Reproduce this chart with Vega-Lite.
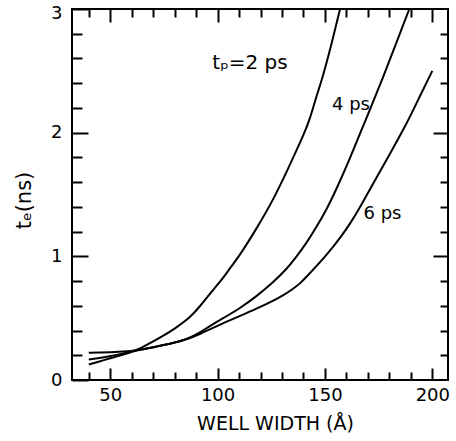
{
  "$schema": "https://vega.github.io/schema/vega-lite/v6.json",
  "width": 376,
  "height": 371,
  "autosize": {"type": "none"},
  "padding": {"left": 72, "top": 9, "right": 8, "bottom": 61},
  "background": "white",
  "config": {
    "view": {"stroke": "black", "strokeWidth": 2},
    "font": "DejaVu Sans",
    "axis": {"zindex": 2, "domain": false, "grid": false, "ticks": true, "tickColor": "black", "tickWidth": 2, "tickOpacity": 1, "labelColor": "black", "titleColor": "black", "labelFont": "DejaVu Sans", "titleFont": "DejaVu Sans", "labelFontSize": 18, "titleFontSize": 19, "titleFontWeight": "normal"}
  },
  "resolve": {"axis": {"x": "independent", "y": "independent"}},
  "layer": [
    {
      "data": {"values": [
        {"series": "2 ps", "width": 40, "te": 0.125},
        {"series": "2 ps", "width": 45, "te": 0.15},
        {"series": "2 ps", "width": 50, "te": 0.176},
        {"series": "2 ps", "width": 55, "te": 0.2},
        {"series": "2 ps", "width": 62, "te": 0.237},
        {"series": "2 ps", "width": 68.5, "te": 0.297},
        {"series": "2 ps", "width": 75, "te": 0.36},
        {"series": "2 ps", "width": 80, "te": 0.415},
        {"series": "2 ps", "width": 87, "te": 0.5},
        {"series": "2 ps", "width": 92, "te": 0.6},
        {"series": "2 ps", "width": 96, "te": 0.69},
        {"series": "2 ps", "width": 102, "te": 0.81},
        {"series": "2 ps", "width": 106, "te": 0.91},
        {"series": "2 ps", "width": 110.4, "te": 1.01},
        {"series": "2 ps", "width": 118, "te": 1.22},
        {"series": "2 ps", "width": 125.9, "te": 1.455},
        {"series": "2 ps", "width": 132.9, "te": 1.71},
        {"series": "2 ps", "width": 136.8, "te": 1.86},
        {"series": "2 ps", "width": 140, "te": 1.98},
        {"series": "2 ps", "width": 143, "te": 2.11},
        {"series": "2 ps", "width": 145.4, "te": 2.26},
        {"series": "2 ps", "width": 149.2, "te": 2.46},
        {"series": "2 ps", "width": 153.9, "te": 2.775},
        {"series": "2 ps", "width": 157, "te": 3.0},
        {"series": "4 ps", "width": 40, "te": 0.165},
        {"series": "4 ps", "width": 45, "te": 0.178},
        {"series": "4 ps", "width": 50, "te": 0.192},
        {"series": "4 ps", "width": 56, "te": 0.215},
        {"series": "4 ps", "width": 62, "te": 0.237},
        {"series": "4 ps", "width": 70, "te": 0.265},
        {"series": "4 ps", "width": 79, "te": 0.296},
        {"series": "4 ps", "width": 86, "te": 0.33},
        {"series": "4 ps", "width": 91.8, "te": 0.385},
        {"series": "4 ps", "width": 96, "te": 0.432},
        {"series": "4 ps", "width": 102.6, "te": 0.5},
        {"series": "4 ps", "width": 110.4, "te": 0.58},
        {"series": "4 ps", "width": 118, "te": 0.675},
        {"series": "4 ps", "width": 125.9, "te": 0.79},
        {"series": "4 ps", "width": 132, "te": 0.895},
        {"series": "4 ps", "width": 136, "te": 0.98},
        {"series": "4 ps", "width": 141.5, "te": 1.11},
        {"series": "4 ps", "width": 146, "te": 1.235},
        {"series": "4 ps", "width": 150.8, "te": 1.38},
        {"series": "4 ps", "width": 155, "te": 1.53},
        {"series": "4 ps", "width": 161.6, "te": 1.79},
        {"series": "4 ps", "width": 166, "te": 1.98},
        {"series": "4 ps", "width": 172, "te": 2.23},
        {"series": "4 ps", "width": 177, "te": 2.445},
        {"series": "4 ps", "width": 181.8, "te": 2.66},
        {"series": "4 ps", "width": 185.5, "te": 2.83},
        {"series": "4 ps", "width": 189.3, "te": 3.0},
        {"series": "6 ps", "width": 40, "te": 0.22},
        {"series": "6 ps", "width": 45, "te": 0.222},
        {"series": "6 ps", "width": 50, "te": 0.225},
        {"series": "6 ps", "width": 56, "te": 0.23},
        {"series": "6 ps", "width": 62, "te": 0.237},
        {"series": "6 ps", "width": 70, "te": 0.265},
        {"series": "6 ps", "width": 79, "te": 0.296},
        {"series": "6 ps", "width": 86, "te": 0.33},
        {"series": "6 ps", "width": 91.8, "te": 0.372},
        {"series": "6 ps", "width": 100, "te": 0.438},
        {"series": "6 ps", "width": 105, "te": 0.478},
        {"series": "6 ps", "width": 110, "te": 0.515},
        {"series": "6 ps", "width": 118, "te": 0.575},
        {"series": "6 ps", "width": 125, "te": 0.632},
        {"series": "6 ps", "width": 130.6, "te": 0.685},
        {"series": "6 ps", "width": 135, "te": 0.735},
        {"series": "6 ps", "width": 138.4, "te": 0.78},
        {"series": "6 ps", "width": 142, "te": 0.845},
        {"series": "6 ps", "width": 146, "te": 0.92},
        {"series": "6 ps", "width": 150, "te": 0.998},
        {"series": "6 ps", "width": 153.9, "te": 1.078},
        {"series": "6 ps", "width": 157.5, "te": 1.16},
        {"series": "6 ps", "width": 161.6, "te": 1.26},
        {"series": "6 ps", "width": 166.8, "te": 1.41},
        {"series": "6 ps", "width": 173.3, "te": 1.617},
        {"series": "6 ps", "width": 180.3, "te": 1.83},
        {"series": "6 ps", "width": 188, "te": 2.07},
        {"series": "6 ps", "width": 193.5, "te": 2.27},
        {"series": "6 ps", "width": 200, "te": 2.5}
      ]},
      "mark": {"type": "line", "color": "black", "strokeWidth": 2, "interpolate": "basis", "clip": true},
      "encoding": {
        "x": {"field": "width", "type": "quantitative", "scale": {"domain": [32.2, 207.3], "nice": false, "zero": false},
          "axis": {"orient": "bottom", "values": [50, 100, 150, 200], "tickSize": -12, "labelPadding": 18, "labelFlush": false, "title": "WELL WIDTH (Å)", "titleX": 203, "titlePadding": 10}},
        "y": {"field": "te", "type": "quantitative", "scale": {"domain": [0, 3], "nice": false, "zero": false},
          "axis": {"orient": "left", "values": [0, 1, 2, 3], "tickSize": -16, "labelPadding": 26, "labelFlush": false, "labelOffset": {"condition": {"test": "datum.value == 3", "value": 4}, "value": 0}, "title": "tₑ(ns)", "titleFontSize": 21, "titleX": -38, "titleY": 191}},
        "detail": {"field": "series"}
      }
    },
    {
      "data": {"values": [{"label": "tₚ=2 ps", "width": 115.1, "te": 2.56}]},
      "mark": {"type": "text", "fontSize": 20, "color": "black", "align": "center", "baseline": "middle"},
      "encoding": {
        "x": {"field": "width", "type": "quantitative", "scale": {"domain": [32.2, 207.3], "nice": false, "zero": false},
          "axis": {"orient": "bottom", "values": [40, 60, 70, 80, 90, 110, 120, 130, 140, 160, 170, 180, 190], "tickSize": -8, "labels": false, "title": null}},
        "y": {"field": "te", "type": "quantitative", "scale": {"domain": [0, 3], "nice": false, "zero": false},
          "axis": {"orient": "left", "values": [0.2, 0.4, 0.6, 0.8, 1.2, 1.4, 1.6, 1.8, 2.2, 2.4, 2.6, 2.8], "tickSize": -10, "labels": false, "title": null}},
        "text": {"field": "label"}
      }
    },
    {
      "data": {"values": [{"label": "4 ps", "width": 162.1, "te": 2.22}]},
      "mark": {"type": "text", "fontSize": 18, "color": "black", "align": "center", "baseline": "middle"},
      "encoding": {
        "x": {"field": "width", "type": "quantitative", "scale": {"domain": [32.2, 207.3], "nice": false, "zero": false},
          "axis": {"orient": "top", "values": [50, 100, 150, 200], "tickSize": -13, "labels": false, "title": null}},
        "y": {"field": "te", "type": "quantitative", "scale": {"domain": [0, 3], "nice": false, "zero": false},
          "axis": {"orient": "right", "values": [1, 2], "tickSize": -15, "labels": false, "title": null}},
        "text": {"field": "label"}
      }
    },
    {
      "data": {"values": [{"label": "6 ps", "width": 176.8, "te": 1.346}]},
      "mark": {"type": "text", "fontSize": 18, "color": "black", "align": "center", "baseline": "middle"},
      "encoding": {
        "x": {"field": "width", "type": "quantitative", "scale": {"domain": [32.2, 207.3], "nice": false, "zero": false},
          "axis": {"orient": "top", "values": [40, 60, 70, 80, 90, 110, 120, 130, 140, 160, 170, 180, 190], "tickSize": -8, "labels": false, "title": null}},
        "y": {"field": "te", "type": "quantitative", "scale": {"domain": [0, 3], "nice": false, "zero": false},
          "axis": {"orient": "right", "values": [0.2, 0.4, 0.6, 0.8, 1.2, 1.4, 1.6, 1.8, 2.2, 2.4, 2.6, 2.8], "tickSize": -8, "labels": false, "title": null}},
        "text": {"field": "label"}
      }
    }
  ]
}
